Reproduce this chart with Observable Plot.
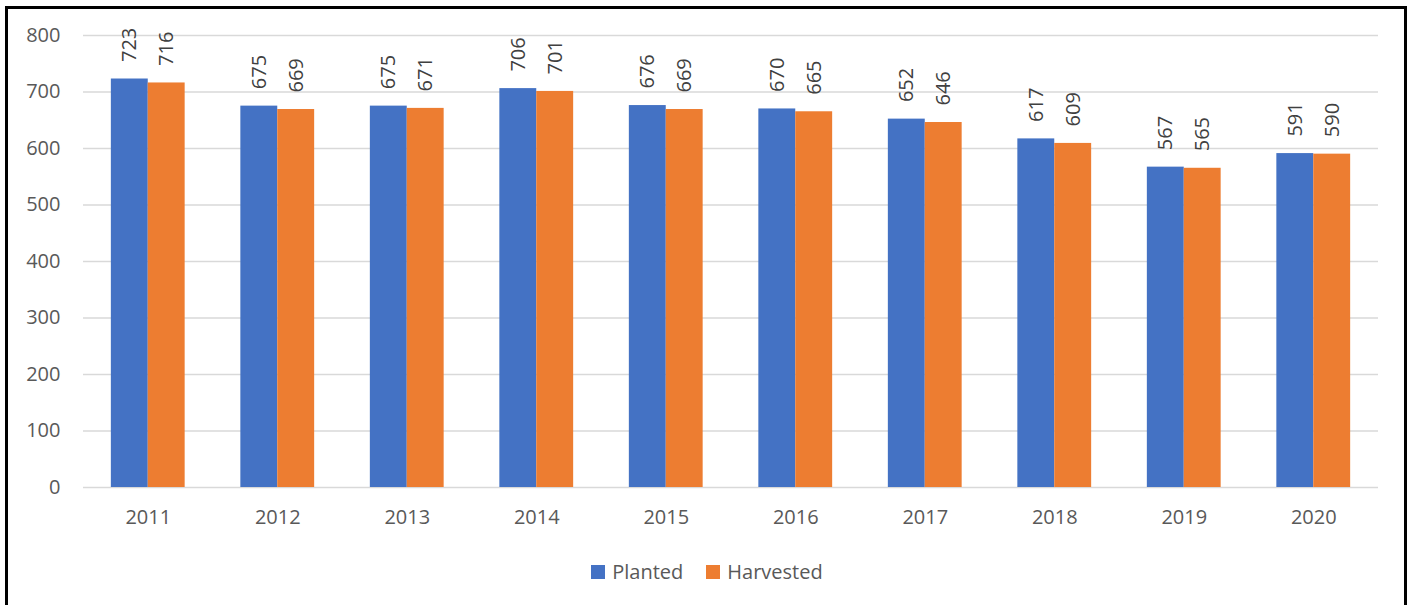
<!DOCTYPE html>
<html>
<head>
<meta charset="utf-8">
<script src="https://cdn.jsdelivr.net/npm/d3@7"></script>
<script src="https://cdn.jsdelivr.net/npm/@observablehq/plot@0.6"></script>
<style>
  html, body { margin: 0; padding: 0; background: #fff; width: 1408px; height: 605px; overflow: hidden; }
  #frame { position: absolute; left: 5px; top: 6px; width: 1396px; height: 700px; border: 3px solid #000; box-sizing: content-box; pointer-events: none; }
  .layer { position: absolute; left: 0; top: 0; }
  #legend { position: absolute; left: 3px; top: 558px; width: 1408px; display: flex; justify-content: center; gap: 23px;
            font-family: 'Open Sans', sans-serif; font-size: 20px; color: #595959; }
  .item { display: flex; align-items: center; gap: 7px; }
  .sw { width: 14px; height: 14px; display: inline-block; }
</style>
</head>
<body>
<div id="back" class="layer"></div>
<div id="front" class="layer"></div>
<div id="legend"></div>
<div id="frame"></div>
<script>
const years = ["2011","2012","2013","2014","2015","2016","2017","2018","2019","2020"];
const planted = [723, 675, 675, 706, 676, 670, 652, 617, 567, 591];
const harvested = [716, 669, 671, 701, 669, 665, 646, 609, 565, 590];
const seriesNames = ["Planted", "Harvested"];
const seriesColors = ["#4472C4", "#ED7D31"];
const yTicks = [0, 100, 200, 300, 400, 500, 600, 700, 800];

const data = years.flatMap((yr, i) => [
  {year: yr, series: "Planted", value: planted[i]},
  {year: yr, series: "Harvested", value: harvested[i]}
]);

const common = {
  width: 1408,
  height: 540,
  marginLeft: 83,
  marginRight: 30,
  marginTop: 35,
  marginBottom: 53,
  style: {fontFamily: "'Open Sans', sans-serif", fontSize: "20px", color: "#595959", background: "transparent"}
};

// Background: gridlines, y axis, year labels
const back = Plot.plot({
  ...common,
  x: {domain: years, paddingInner: 0.43, paddingOuter: 0.215, round: false, axis: null},
  y: {domain: [0, 800], axis: null},
  marks: [
    Plot.ruleY(yTicks, {stroke: "#d9d9d9", strokeWidth: 1.3}),
    Plot.axisY({ticks: yTicks, tickSize: 0, tickPadding: 23, label: null, fill: "#595959", fontSize: 20}),
    Plot.axisX({anchor: "bottom", tickSize: 0, tickPadding: 22, label: null, fill: "#595959", fontSize: 20})
  ]
});
document.getElementById("back").appendChild(back);

// Foreground: grouped bars and value labels
const front = Plot.plot({
  ...common,
  fx: {domain: years, paddingInner: 0.43, paddingOuter: 0.215, round: false, axis: null},
  x: {domain: seriesNames, padding: 0, round: false, axis: null},
  y: {domain: [0, 800], axis: null},
  color: {domain: seriesNames, range: seriesColors},
  marks: [
    Plot.barY(data, {fx: "year", x: "series", y: "value", fill: "series"}),
    Plot.text(data, {fx: "year", x: "series", y: "value", text: d => String(d.value), rotate: -90, textAnchor: "start", dy: -17, fill: "#404040", fontSize: 20})
  ]
});
document.getElementById("front").appendChild(front);

const legend = document.getElementById("legend");
seriesNames.forEach((name, i) => {
  const item = document.createElement("span");
  item.className = "item";
  const sw = document.createElement("span");
  sw.className = "sw";
  sw.style.background = seriesColors[i];
  item.appendChild(sw);
  item.appendChild(document.createTextNode(name));
  legend.appendChild(item);
});
</script>
</body>
</html>
